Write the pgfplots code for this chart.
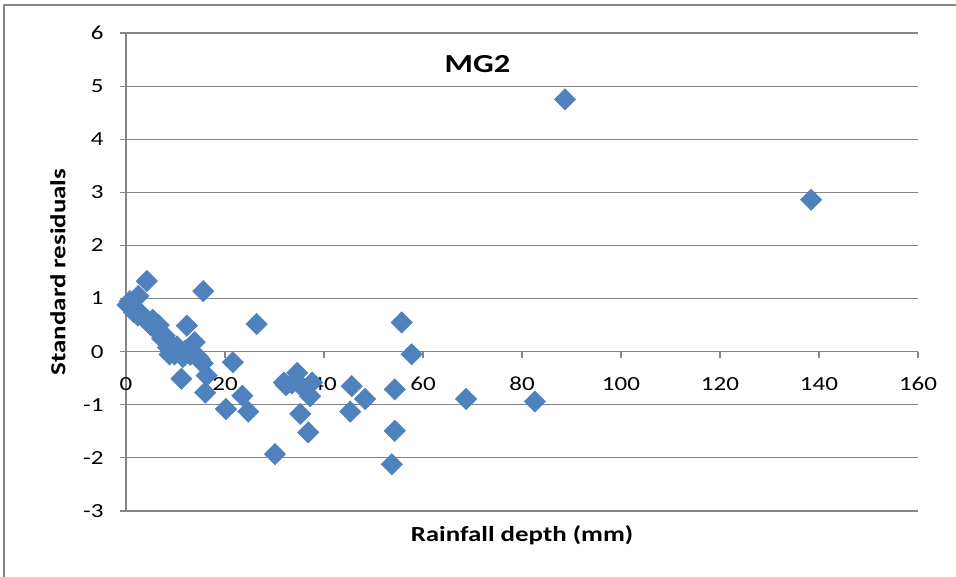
\documentclass[border=0pt]{standalone}
\usepackage{pgfplots}
\pgfplotsset{compat=1.18}
\usepackage{fontspec}
\setmainfont{Carlito}[FakeStretch=1.25]
\definecolor{ser}{HTML}{4F81BD}
\definecolor{gridc}{HTML}{868686}

\begin{document}
\begin{tikzpicture}
\path[use as bounding box] (-126pt,-66pt) rectangle (830pt,511pt);
\draw[gridc, line width=2.5pt] (-122pt,-66pt) -- (-122pt,506pt) -- (830pt,506pt);
\begin{axis}[at={(0pt,0pt)}, anchor=south west, scale only axis,
  width=792pt, height=478pt,
  xmin=0, xmax=160, ymin=-3, ymax=6,
  axis x line=middle, axis y line=left, hide obscured x ticks=false,
  tick align=outside, major tick length=6pt,
  axis line style={gridc, line width=1.2pt, -},
  every tick/.style={gridc, line width=1.2pt},
  ymajorgrids, grid style={gridc, line width=1.2pt},
  xtick={0,20,...,160}, xticklabels={0,20,40,60,80,100,120,140,160},
  ytick={-3,-2,...,6}, yticklabels={-3,-2,-1,0,1,2,3,4,5,6},
  ticklabel style={font=\fontsize{20}{24}\selectfont},
  xticklabel style={yshift=-16pt},
  yticklabel style={xshift=-13pt},
  xlabel={Rainfall depth (mm)}, ylabel={Standard residuals},
  xlabel style={at={(rel axis cs:0.5,0)}, anchor=center, yshift=-24pt,
    font=\bfseries\fontsize{21.5}{24}\selectfont},
  ylabel style={at={(rel axis cs:0,0.5)}, anchor=center, yshift=68pt,
    font=\bfseries\fontsize{21.5}{24}\selectfont},
  clip=false]
\addplot[only marks, mark=square*, mark size=7.6pt,
  mark options={rotate=45, fill=ser, draw=ser}] coordinates {
(0.3,0.88) (0.8,0.95) (1.2,0.82) (1.6,0.74) (2.0,0.80) (2.5,1.05)
(2.4,0.68) (3.0,0.72) (3.5,0.64) (4.0,0.60) (4.2,1.33) (4.6,0.55)
(5.0,0.50) (5.4,0.60) (5.8,0.44) (6.2,0.40) (6.6,0.50) (7.0,0.34)
(7.3,0.25) (7.8,0.30) (8.2,0.20) (8.5,0.08) (8.8,-0.05) (9.0,0.15)
(9.4,0.04) (9.8,-0.05) (10.3,0.10) (10.8,0.00) (11.2,-0.51) (11.5,-0.10)
(12.0,0.02) (12.3,0.49) (13.0,-0.06) (13.9,0.18) (14.5,-0.10) (14.9,-0.14)
(15.6,1.14) (15.5,-0.22) (16.0,-0.77) (16.3,-0.45) (20.2,-1.08) (21.6,-0.20)
(23.5,-0.83) (24.7,-1.13) (26.4,0.52) (30.1,-1.93) (31.9,-0.58) (32.3,-0.63)
(33.5,-0.60) (34.6,-0.40) (35.3,-0.64) (35.2,-1.17) (36.8,-1.52) (37.2,-0.84)
(37.6,-0.58) (45.3,-1.13) (45.6,-0.65) (48.3,-0.89) (53.7,-2.12) (54.3,-0.71)
(54.3,-1.49) (55.7,0.55) (57.7,-0.05) (68.7,-0.89) (82.6,-0.94) (88.7,4.75)
(138.4,2.86)
};
\node[font=\bfseries\fontsize{26}{30}\selectfont] at (axis cs:71,5.42) {MG2};
\end{axis}
\end{tikzpicture}
\end{document}
